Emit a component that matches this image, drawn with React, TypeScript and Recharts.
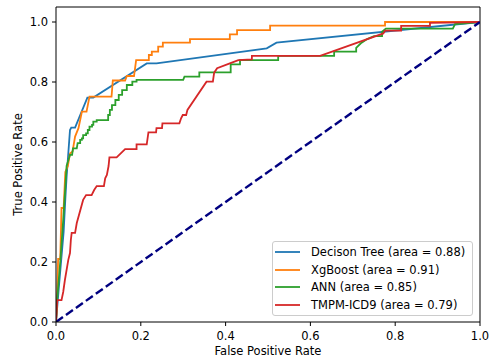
import React from 'react';
import { LineChart, Line, XAxis, YAxis, ReferenceLine, Legend, Label } from 'recharts';

// ROC points (false positive rate / true positive rate)
const dtFpr = [0, 0.007, 0.018, 0.022, 0.025, 0.033, 0.036, 0.045, 0.074, 0.088, 0.214, 0.237, 0.497, 0.52, 1];
const dtTpr = [0, 0.12, 0.3, 0.41, 0.484, 0.64, 0.648, 0.648, 0.748, 0.748, 0.862, 0.862, 0.912, 0.931, 1];

const xgbFpr = [0, 0.002, 0.005, 0.01, 0.013, 0.018, 0.022, 0.028, 0.033, 0.039, 0.045, 0.053, 0.057, 0.061, 0.072, 0.079, 0.131, 0.134, 0.163, 0.167, 0.184, 0.189, 0.219, 0.219, 0.226, 0.226, 0.241, 0.241, 0.252, 0.252, 0.316, 0.316, 0.41, 0.41, 0.427, 0.427, 0.505, 0.505, 0.776, 0.776, 1];
const xgbTpr = [0, 0.05, 0.21, 0.21, 0.38, 0.38, 0.5, 0.52, 0.562, 0.568, 0.618, 0.646, 0.673, 0.701, 0.701, 0.751, 0.751, 0.805, 0.805, 0.82, 0.82, 0.873, 0.873, 0.89, 0.89, 0.901, 0.901, 0.918, 0.918, 0.931, 0.931, 0.943, 0.943, 0.959, 0.959, 0.973, 0.973, 0.988, 0.988, 1, 1];

const annFpr = [0, 0.003, 0.01, 0.017, 0.022, 0.025, 0.028, 0.033, 0.038, 0.04, 0.049, 0.051, 0.057, 0.057, 0.061, 0.061, 0.064, 0.064, 0.071, 0.071, 0.075, 0.075, 0.079, 0.079, 0.085, 0.085, 0.088, 0.088, 0.096, 0.096, 0.123, 0.123, 0.127, 0.127, 0.132, 0.132, 0.14, 0.14, 0.148, 0.148, 0.156, 0.156, 0.167, 0.167, 0.18, 0.18, 0.19, 0.19, 0.3, 0.303, 0.338, 0.338, 0.412, 0.412, 0.434, 0.434, 0.524, 0.524, 0.656, 0.656, 0.708, 0.708, 0.719, 0.734, 0.75, 0.769, 0.769, 0.778, 0.936, 0.941, 1];
const annTpr = [0, 0.08, 0.2, 0.34, 0.45, 0.52, 0.534, 0.557, 0.557, 0.579, 0.579, 0.596, 0.596, 0.607, 0.607, 0.612, 0.612, 0.623, 0.623, 0.629, 0.629, 0.64, 0.64, 0.651, 0.651, 0.657, 0.657, 0.668, 0.668, 0.673, 0.673, 0.69, 0.69, 0.707, 0.707, 0.723, 0.723, 0.74, 0.74, 0.757, 0.757, 0.773, 0.773, 0.79, 0.79, 0.801, 0.801, 0.807, 0.807, 0.818, 0.818, 0.832, 0.832, 0.859, 0.859, 0.873, 0.873, 0.887, 0.887, 0.901, 0.901, 0.914, 0.929, 0.943, 0.953, 0.953, 0.968, 0.978, 0.978, 0.993, 1];

const tmpmFpr = [0, 0.003, 0.013, 0.017, 0.021, 0.029, 0.033, 0.035, 0.037, 0.045, 0.049, 0.064, 0.071, 0.084, 0.09, 0.096, 0.113, 0.116, 0.12, 0.124, 0.126, 0.143, 0.163, 0.19, 0.19, 0.214, 0.218, 0.236, 0.237, 0.25, 0.251, 0.291, 0.295, 0.299, 0.307, 0.31, 0.355, 0.37, 0.373, 0.38, 0.41, 0.43, 0.462, 0.462, 0.623, 0.772, 0.776, 0.814, 0.814, 0.882, 0.882, 1];
const tmpmTpr = [0, 0.073, 0.073, 0.1, 0.14, 0.207, 0.23, 0.273, 0.297, 0.297, 0.33, 0.407, 0.423, 0.423, 0.44, 0.453, 0.453, 0.479, 0.49, 0.52, 0.549, 0.549, 0.576, 0.576, 0.592, 0.592, 0.632, 0.632, 0.646, 0.646, 0.662, 0.662, 0.679, 0.69, 0.69, 0.707, 0.801, 0.801, 0.831, 0.846, 0.862, 0.873, 0.875, 0.887, 0.887, 0.962, 0.971, 0.971, 0.987, 0.987, 0.997, 1];

const chanceFpr = [0, 1];
const chanceTpr = [0, 1];

const axisTicks = [0, 0.2, 0.4, 0.6, 0.8, 1.0];

const zip = (xs: number[], ys: number[]) => xs.map((x, i) => ({ x, y: ys[i] }));

const series = [
  { name: 'Decison Tree (area = 0.88)', color: '#1f77b4', data: zip(dtFpr, dtTpr) },
  { name: 'XgBoost (area = 0.91)', color: '#ff7f0e', data: zip(xgbFpr, xgbTpr) },
  { name: 'ANN (area = 0.85)', color: '#2ca02c', data: zip(annFpr, annTpr) },
  { name: 'TMPM-ICD9 (area = 0.79)', color: '#d62728', data: zip(tmpmFpr, tmpmTpr) },
];

const FONT = '"DejaVu Sans", sans-serif';
const tickStyle = { fontSize: 11.5, fill: '#000', fontFamily: FONT };

const LegendBox = () => (
  <div
    style={{
      boxSizing: 'border-box',
      width: 201,
      height: 75,
      border: '1px solid #cccccc',
      borderRadius: 3,
      background: 'rgba(255,255,255,0.8)',
      paddingTop: 1,
      fontFamily: FONT,
      fontSize: 11.5,
      color: '#000',
    }}
  >
    {series.map((s) => (
      <div key={s.name} style={{ display: 'flex', alignItems: 'center', height: 17.8 }}>
        <svg width={36} height={10} style={{ marginLeft: 2, flex: 'none' }}>
          <line x1={0} y1={5} x2={25} y2={5} stroke={s.color} strokeWidth={1.8} />
        </svg>
        <span style={{ whiteSpace: 'nowrap' }}>{s.name}</span>
      </div>
    ))}
  </div>
);

const App: React.FC = () => {
  return (
    <div style={{ position: 'absolute', left: 0, top: 0, width: 495, height: 359, background: '#fff', fontFamily: FONT }}>
      <LineChart width={495} height={359} margin={{ top: 7, right: 15, left: 0, bottom: 0 }}>
        <XAxis
          type="number"
          dataKey="x"
          domain={[0, 1]}
          ticks={axisTicks}
          allowDataOverflow
          height={37}
          tickSize={4}
          tickMargin={5.5}
          tick={tickStyle}
          tickFormatter={(v: number) => v.toFixed(1)}
          axisLine={{ stroke: '#000' }}
          tickLine={{ stroke: '#000' }}
        >
          <Label
            content={(props: any) => {
              const vb = props.viewBox;
              return (
                <text x={vb.x + vb.width / 2} y={vb.y + 32.5} textAnchor="middle" fontSize={11.5} fontFamily={FONT} fill="#000">
                  False Positive Rate
                </text>
              );
            }}
          />
        </XAxis>
        <YAxis
          type="number"
          dataKey="y"
          domain={[0, 1.05]}
          ticks={axisTicks}
          allowDataOverflow
          width={56}
          tickSize={4}
          tickMargin={4}
          tick={tickStyle}
          tickFormatter={(v: number) => v.toFixed(1)}
          axisLine={{ stroke: '#000' }}
          tickLine={{ stroke: '#000' }}
        >
          <Label
            content={(props: any) => {
              const vb = props.viewBox;
              const cx = vb.x + 21.5;
              const cy = vb.y + vb.height / 2;
              return (
                <text x={cx} y={cy} transform={`rotate(-90, ${cx}, ${cy})`} textAnchor="middle" fontSize={11.5} fontFamily={FONT} fill="#000">
                  True Positive Rate
                </text>
              );
            }}
          />
        </YAxis>
        {/* top and right spines */}
        <ReferenceLine y={1.05} stroke="#000" strokeWidth={1} />
        <ReferenceLine x={1} stroke="#000" strokeWidth={1} />
        {series.map((s) => (
          <Line
            key={s.name}
            data={s.data}
            dataKey="y"
            name={s.name}
            type="linear"
            stroke={s.color}
            strokeWidth={1.8}
            dot={false}
            activeDot={false}
            isAnimationActive={false}
          />
        ))}
        <Line
          data={zip(chanceFpr, chanceTpr)}
          dataKey="y"
          name="chance"
          type="linear"
          stroke="#000080"
          strokeWidth={2.4}
          strokeDasharray="8.5 3.7"
          dot={false}
          activeDot={false}
          legendType="none"
          isAnimationActive={false}
        />
        <Legend
          layout="vertical"
          align="center"
          verticalAlign="middle"
          content={() => <LegendBox />}
          wrapperStyle={{ left: 272, top: 241, width: 201, height: 75 }}
        />
      </LineChart>
    </div>
  );
};

export default App;
